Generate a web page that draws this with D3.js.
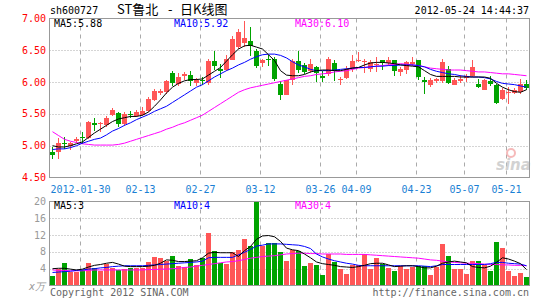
<!DOCTYPE html>
<html>
<head>
<meta charset="utf-8">
<script src="https://cdn.jsdelivr.net/npm/d3@7"></script>
<style>
  body { margin: 0; background: #fff; }
  svg { display: block; }
  text { font-family: "DejaVu Sans Mono", monospace; font-size: 10px; }
</style>
</head>
<body>
<svg id="chart" width="545" height="300"></svg>
<script>
// daily K line, one entry per trading day (2012-01-16 .. 2012-05-24)
var open = [
  4.90, 4.90, 5.04, 4.99, 5.07, 5.14, 5.12, 5.35, 5.35, 5.33,
  5.48, 5.52, 5.34, 5.50, 5.47, 5.49, 5.55, 5.72, 5.83, 5.84,
  6.14, 5.97, 6.09, 6.11, 5.99, 6.04, 5.98, 6.33, 6.21, 6.19,
  6.35, 6.55, 6.62, 6.64, 6.49, 6.30, 6.37, 6.37, 5.97, 5.80,
  6.04, 6.33, 6.27, 6.18, 6.24, 6.09, 6.12, 6.30, 6.04, 6.07,
  6.21, 6.33, 6.31, 6.21, 6.27, 6.35, 6.30, 6.34, 6.16, 6.19,
  6.28, 6.35, 6.03, 5.95, 6.02, 6.02, 6.21, 5.96, 6.02, 6.07,
  6.09, 5.97, 5.88, 6.01, 5.95, 5.74, 5.83, 5.83, 5.84, 5.97
]
var high = [
  4.98, 5.12, 5.14, 5.06, 5.14, 5.22, 5.39, 5.44, 5.37, 5.46,
  5.59, 5.53, 5.53, 5.55, 5.56, 5.61, 5.76, 5.89, 5.89, 6.04,
  6.17, 6.15, 6.16, 6.18, 6.07, 6.08, 6.36, 6.49, 6.29, 6.42,
  6.73, 6.83, 6.96, 6.86, 6.52, 6.37, 6.42, 6.40, 6.02, 6.04,
  6.36, 6.49, 6.30, 6.37, 6.26, 6.17, 6.39, 6.34, 6.08, 6.25,
  6.42, 6.47, 6.36, 6.35, 6.39, 6.35, 6.40, 6.35, 6.24, 6.33,
  6.40, 6.35, 6.08, 6.06, 6.07, 6.36, 6.26, 6.07, 6.11, 6.13,
  6.34, 6.05, 6.05, 6.10, 5.97, 5.90, 5.92, 5.91, 6.05, 6.04
]
var low = [
  4.79, 4.79, 4.95, 4.93, 5.05, 5.03, 5.10, 5.23, 5.21, 5.30,
  5.46, 5.29, 5.31, 5.43, 5.45, 5.46, 5.53, 5.71, 5.79, 5.81,
  5.94, 5.94, 6.04, 5.94, 5.94, 5.96, 5.96, 6.19, 6.07, 6.17,
  6.34, 6.52, 6.55, 6.41, 6.22, 6.23, 6.25, 6.02, 5.72, 5.79,
  5.96, 6.14, 6.13, 6.15, 6.00, 6.00, 6.10, 6.02, 5.95, 6.05,
  6.16, 6.31, 6.14, 6.16, 6.16, 6.19, 6.26, 6.10, 6.09, 6.12,
  6.25, 6.03, 5.82, 5.93, 5.99, 5.99, 5.97, 5.95, 5.99, 6.00,
  6.08, 5.90, 5.87, 5.94, 5.65, 5.72, 5.65, 5.81, 5.82, 5.88
]
var close = [
  4.86, 5.05, 5.02, 5.05, 5.10, 5.12, 5.38, 5.33, 5.36, 5.44,
  5.56, 5.34, 5.50, 5.48, 5.53, 5.55, 5.74, 5.86, 5.86, 6.02,
  5.99, 6.08, 6.13, 6.02, 6.03, 6.02, 6.33, 6.26, 6.18, 6.37,
  6.68, 6.78, 6.70, 6.57, 6.26, 6.35, 6.35, 6.05, 5.80, 6.04,
  6.33, 6.19, 6.16, 6.29, 6.14, 6.07, 6.37, 6.18, 6.05, 6.21,
  6.33, 6.35, 6.33, 6.32, 6.29, 6.30, 6.35, 6.17, 6.21, 6.31,
  6.32, 6.08, 6.00, 6.04, 6.05, 6.32, 5.98, 6.04, 6.05, 6.10,
  6.24, 5.92, 6.04, 5.97, 5.67, 5.88, 5.85, 5.88, 5.97, 5.91
]
// volume, in units of 10k (x万)
var volume = [
  2.3, 3.9, 5.3, 3.1, 3.1, 3.7, 5.4, 4.2, 3.4, 5.1,
  4.2, 3.7, 3.9, 4.2, 4.2, 4.2, 5.5, 6.9, 6.5, 5.9,
  7.1, 4.7, 4.5, 6.2, 5.0, 6.6, 12.6, 8.3, 5.3, 5.1,
  8.0, 8.5, 11.0, 9.5, 22.0, 9.3, 10.2, 10.2, 7.9, 5.9,
  8.5, 8.3, 4.7, 5.3, 5.0, 2.6, 7.5, 5.5, 3.9, 2.8,
  4.9, 4.9, 7.4, 3.9, 6.5, 5.1, 4.2, 3.4, 4.7, 3.9,
  4.5, 4.7, 4.7, 2.6, 4.5, 9.9, 7.1, 3.9, 3.9, 2.7,
  5.8, 5.8, 5.0, 3.4, 10.3, 8.9, 3.4, 2.3, 2.9, 2.1
]
// moving averages as drawn on the chart
var ma5 = [
  5.00, 4.98, 4.98, 5.00, 5.03, 5.06, 5.13, 5.20, 5.26, 5.32,
  5.38, 5.42, 5.44, 5.46, 5.46, 5.48, 5.53, 5.62, 5.72, 5.83,
  5.92, 5.98, 6.02, 6.04, 6.04, 6.05, 6.11, 6.17, 6.23, 6.33,
  6.43, 6.52, 6.57, 6.58, 6.55, 6.52, 6.43, 6.34, 6.18, 6.11,
  6.10, 6.10, 6.12, 6.16, 6.18, 6.19, 6.19, 6.18, 6.18, 6.20,
  6.22, 6.23, 6.27, 6.30, 6.31, 6.31, 6.30, 6.29, 6.27, 6.26,
  6.25, 6.24, 6.18, 6.12, 6.09, 6.09, 6.09, 6.09, 6.08, 6.08,
  6.08, 6.08, 6.08, 6.06, 5.98, 5.92, 5.88, 5.85, 5.84, 5.88
]
var ma10 = [
  4.94, 4.95, 4.95, 4.97, 5.00, 5.04, 5.07, 5.10, 5.12, 5.17,
  5.23, 5.27, 5.32, 5.36, 5.41, 5.45, 5.49, 5.54, 5.58, 5.62,
  5.68, 5.74, 5.80, 5.86, 5.92, 5.96, 6.02, 6.08, 6.13, 6.18,
  6.22, 6.27, 6.31, 6.36, 6.40, 6.43, 6.44, 6.44, 6.42, 6.38,
  6.32, 6.27, 6.24, 6.20, 6.18, 6.18, 6.18, 6.19, 6.20, 6.21,
  6.22, 6.23, 6.23, 6.24, 6.25, 6.25, 6.26, 6.26, 6.27, 6.27,
  6.27, 6.26, 6.24, 6.20, 6.17, 6.15, 6.13, 6.12, 6.10, 6.09,
  6.08, 6.08, 6.07, 6.05, 6.01, 5.98, 5.97, 5.96, 5.94, 5.92
]
var ma30 = [
  5.22, 5.16, 5.10, 5.07, 5.05, 5.03, 5.02, 5.01, 5.01, 5.01,
  5.01, 5.02, 5.04, 5.07, 5.10, 5.13, 5.16, 5.19, 5.22, 5.26,
  5.29, 5.33, 5.36, 5.40, 5.44, 5.48, 5.54, 5.60, 5.66, 5.72,
  5.78, 5.84, 5.88, 5.91, 5.93, 5.95, 5.97, 5.99, 6.01, 6.03,
  6.05, 6.07, 6.09, 6.10, 6.12, 6.13, 6.14, 6.16, 6.17, 6.18,
  6.20, 6.22, 6.23, 6.24, 6.25, 6.26, 6.27, 6.28, 6.29, 6.28,
  6.27, 6.26, 6.24, 6.22, 6.21, 6.20, 6.19, 6.19, 6.19, 6.18,
  6.17, 6.16, 6.16, 6.15, 6.14, 6.13, 6.13, 6.12, 6.11, 6.10
]
var volMa5 = [
  4.0, 4.1, 4.1, 3.9, 3.7, 3.9, 4.4, 4.8, 5.0, 5.3,
  5.5, 5.1, 4.6, 4.5, 4.5, 4.5, 4.6, 4.8, 5.3, 6.1,
  6.0, 5.7, 5.7, 5.8, 5.9, 6.6, 7.7, 7.9, 7.8, 7.8,
  7.8, 6.9, 8.3, 9.3, 11.0, 11.8, 11.9, 11.6, 10.5, 8.9,
  8.5, 8.3, 7.5, 6.6, 5.6, 5.2, 5.0, 4.8, 4.5, 4.4,
  4.3, 4.5, 4.8, 5.2, 5.3, 5.3, 4.9, 4.5, 4.6, 4.7,
  4.7, 4.5, 4.2, 4.2, 4.6, 5.3, 5.6, 5.8, 5.6, 5.4,
  4.5, 4.3, 4.2, 4.6, 5.5, 6.6, 6.3, 5.8, 5.2, 3.8
]
var volMa10 = [
  3.1, 3.2, 3.3, 3.4, 3.6, 3.7, 3.9, 4.0, 4.2, 4.3,
  4.5, 4.6, 4.7, 4.7, 4.7, 4.7, 4.8, 4.9, 5.0, 5.1,
  5.2, 5.3, 5.4, 5.5, 5.6, 5.8, 6.6, 6.7, 6.7, 6.7,
  6.7, 7.3, 7.9, 8.6, 9.4, 9.6, 9.9, 9.9, 9.9, 9.8,
  9.7, 9.6, 9.3, 8.8, 7.5, 6.8, 6.3, 5.9, 5.6, 5.3,
  5.1, 4.8, 4.7, 4.7, 4.7, 4.7, 4.7, 4.7, 4.7, 4.7,
  4.7, 4.7, 4.6, 4.5, 4.7, 5.0, 5.0, 5.0, 5.0, 5.0,
  5.0, 5.0, 5.0, 5.2, 5.5, 5.5, 5.3, 5.2, 5.1, 4.7
]
var volMa30 = [
  3.7, 3.6, 3.6, 3.5, 3.5, 3.5, 3.6, 3.7, 3.7, 3.7,
  3.7, 3.7, 3.7, 3.7, 3.7, 3.7, 3.8, 3.8, 3.9, 3.9,
  4.0, 4.1, 4.3, 4.4, 4.6, 4.8, 5.0, 5.2, 5.4, 5.6,
  5.7, 5.9, 6.2, 6.5, 6.7, 6.9, 7.0, 7.1, 7.3, 7.5,
  7.6, 7.7, 7.7, 7.6, 7.6, 7.5, 7.5, 7.5, 7.5, 7.4,
  7.4, 7.4, 7.4, 7.3, 7.2, 7.1, 7.0, 6.9, 6.8, 6.7,
  6.6, 6.5, 6.3, 6.1, 6.0, 5.8, 5.6, 5.5, 5.4, 5.3,
  5.3, 5.2, 5.1, 5.0, 5.0, 4.9, 4.9, 4.8, 4.8, 4.7
]
var tickIdx = [5, 15, 25, 35, 45, 51, 61, 69, 76]
var tickLabels = ['2012-01-30', '02-13', '02-27', '03-12', '03-26', '04-09', '04-23', '05-07', '05-21']
var priceTicks = [7.0, 6.5, 6.0, 5.5, 5.0, 4.5]
var volTicks = [20, 16, 12, 8, 4]

var UP = '#ff5656'
var DOWN = '#00a300'
var GRID = '#aaaaaa'

;(function () {
  var svg = d3.select('#chart')
  var n = close.length
  var left = 49.5
  var pTop = 18.5, pBot = 177.5
  var vTop = 201.5, vBot = 285.5

  var x = d3.scaleBand().domain(d3.range(n)).range([left, left + n * 6])
  var right = left + n * 6
  var mid = i => x(i) + 3
  var y = d3.scaleLinear().domain([4.5, 7.0]).range([pBot, pTop])
  var yv = d3.scaleLinear().domain([0, 20]).range([vBot, vTop]).clamp(true)
  var isUp = i => close[i] >= open[i]

  var defs = svg.append('defs')
  defs.append('clipPath').attr('id', 'clipP')
      .append('rect').attr('x', left).attr('y', pTop).attr('width', right - left).attr('height', pBot - pTop)
  defs.append('clipPath').attr('id', 'clipV')
      .append('rect').attr('x', left).attr('y', vTop).attr('width', right - left).attr('height', vBot - vTop)

  // header texts
  svg.append('text').attr('x', 50).attr('y', 14).text('sh600727')
  var title = svg.append('g')
      .style('font-family', '"Noto Sans CJK SC", sans-serif')
  ;[[117, 'ST鲁北'], [168, '-'], [180, '日K线图']].forEach(function (t) {
    title.append('text').attr('x', t[0]).attr('y', 14)
        .style('font-family', '"Noto Sans CJK SC", sans-serif').style('font-size', '13px')
        .text(t[1])
  })
  svg.append('text').attr('x', 529).attr('y', 14).attr('text-anchor', 'end').text('2012-05-24 14:44:37')

  /* ---------------- grids ---------------- */
  function grid (g, ticks, scale, y0, y1) {
    g.selectAll('line.h').data(ticks).enter().append('line')
        .attr('x1', left).attr('x2', right)
        .attr('y1', d => Math.round(scale(d)) + 0.5).attr('y2', d => Math.round(scale(d)) + 0.5)
        .attr('stroke', GRID).attr('stroke-dasharray', '1,2')
    g.selectAll('line.v').data(tickIdx).enter().append('line')
        .attr('x1', d => x(d) + 1).attr('x2', d => x(d) + 1)
        .attr('y1', y0).attr('y2', y1)
        .attr('stroke', GRID).attr('stroke-dasharray', '4,4')
  }
  grid(svg.append('g'), [6.5, 6.0, 5.5, 5.0], y, pTop, pBot)
  grid(svg.append('g'), [16, 12, 8, 4], yv, vTop, vBot)

  // sina watermark
  var wm = svg.append('g').attr('opacity', 0.75)
  wm.append('circle').attr('cx', 511).attr('cy', 153).attr('r', 4)
      .attr('fill', 'none').attr('stroke', '#f3a4a4').attr('stroke-width', 2)
  wm.append('text').attr('x', 496).attr('y', 170)
      .style('font-family', '"DejaVu Sans", sans-serif').style('font-size', '15px')
      .style('font-weight', 'bold').style('font-style', 'italic')
      .attr('fill', '#c4c4c4').text('sina')

  /* ---------------- candles ---------------- */
  var candles = svg.append('g').attr('clip-path', 'url(#clipP)')
      .selectAll('g').data(d3.range(n)).enter().append('g')
  candles.append('line')
      .attr('x1', mid).attr('x2', mid)
      .attr('y1', i => Math.round(y(high[i]))).attr('y2', i => Math.round(y(low[i])))
      .attr('stroke', i => isUp(i) ? UP : DOWN)
  candles.append('rect')
      .attr('x', i => x(i) + 0.5)
      .attr('width', 5)
      .attr('y', i => Math.round(y(Math.max(open[i], close[i]))))
      .attr('height', i => Math.max(1, Math.round(y(Math.min(open[i], close[i]))) - Math.round(y(Math.max(open[i], close[i])))))
      .attr('fill', i => isUp(i) ? UP : DOWN)

  /* ---------------- volume bars ---------------- */
  svg.append('g').selectAll('rect').data(volume).enter().append('rect')
      .attr('x', (d, i) => x(i) + 0.5)
      .attr('width', 5)
      .attr('y', d => Math.round(yv(d)))
      .attr('height', d => Math.round(yv(0)) - Math.round(yv(d)))
      .attr('fill', (d, i) => isUp(i) ? UP : DOWN)

  /* ---------------- moving averages ---------------- */
  function maLine (data, scale, color, clip) {
    var line = d3.line().x((d, i) => mid(i)).y(d => scale(d))
    svg.append('path').datum(data)
        .attr('clip-path', clip)
        .attr('d', line)
        .attr('fill', 'none').attr('stroke', color).attr('stroke-width', 1)
  }
  maLine(ma30, y, '#ff00ff', 'url(#clipP)')
  maLine(ma10, y, '#0000ff', 'url(#clipP)')
  maLine(ma5, y, '#000000', 'url(#clipP)')
  maLine(volMa30, yv, '#ff00ff', 'url(#clipV)')
  maLine(volMa10, yv, '#0000ff', 'url(#clipV)')
  maLine(volMa5, yv, '#000000', 'url(#clipV)')

  // panel borders
  svg.append('rect').attr('x', left).attr('y', pTop).attr('width', right - left).attr('height', pBot - pTop)
      .attr('fill', 'none').attr('stroke', '#999')
  svg.append('rect').attr('x', left).attr('y', vTop).attr('width', right - left).attr('height', vBot - vTop)
      .attr('fill', 'none').attr('stroke', '#999')

  /* ---------------- axis labels ---------------- */
  svg.append('g').selectAll('text').data(priceTicks).enter().append('text')
      .attr('x', 46).attr('y', d => y(d)).attr('dy', '0.35em')
      .attr('text-anchor', 'end').attr('fill', '#ff0000')
      .text(d3.format('.2f'))
  svg.append('g').selectAll('text').data(volTicks).enter().append('text')
      .attr('x', 46).attr('y', d => yv(d)).attr('dy', '0.35em')
      .attr('text-anchor', 'end').attr('fill', '#999')
      .text(d => d)
  svg.append('text').attr('x', 45).attr('y', 290).attr('text-anchor', 'end')
      .attr('fill', '#999').style('font-style', 'italic').text('x万')
  svg.append('g').selectAll('text').data(tickIdx).enter().append('text')
      .attr('x', d => x(d) + 1).attr('y', 193)
      .attr('text-anchor', 'middle').attr('fill', '#1a7fd4')
      .text((d, i) => tickLabels[i])

  // legends
  var last = n - 1
  var fmt = d3.format('.2f')
  function legend (yy, items) {
    items.forEach(function (it) {
      svg.append('text').attr('x', it[0]).attr('y', yy).attr('fill', it[1]).text(it[2])
    })
  }
  legend(27, [[54, '#000', 'MA5:' + fmt(ma5[last])], [174, '#0000ff', 'MA10:' + fmt(ma10[last])], [295, '#ff00ff', 'MA30:' + fmt(ma30[last])]])
  legend(209, [[54, '#000', 'MA5:' + Math.floor(volMa5[last])], [174, '#0000ff', 'MA10:' + Math.floor(volMa10[last])], [295, '#ff00ff', 'MA30:' + Math.floor(volMa30[last])]])

  svg.append('text').attr('x', 50).attr('y', 296).attr('fill', '#666').text('Copyright 2012 SINA.COM')
  svg.append('text').attr('x', 529).attr('y', 296).attr('text-anchor', 'end').attr('fill', '#666').text('http://finance.sina.com.cn')
})()
</script>
</body>
</html>
